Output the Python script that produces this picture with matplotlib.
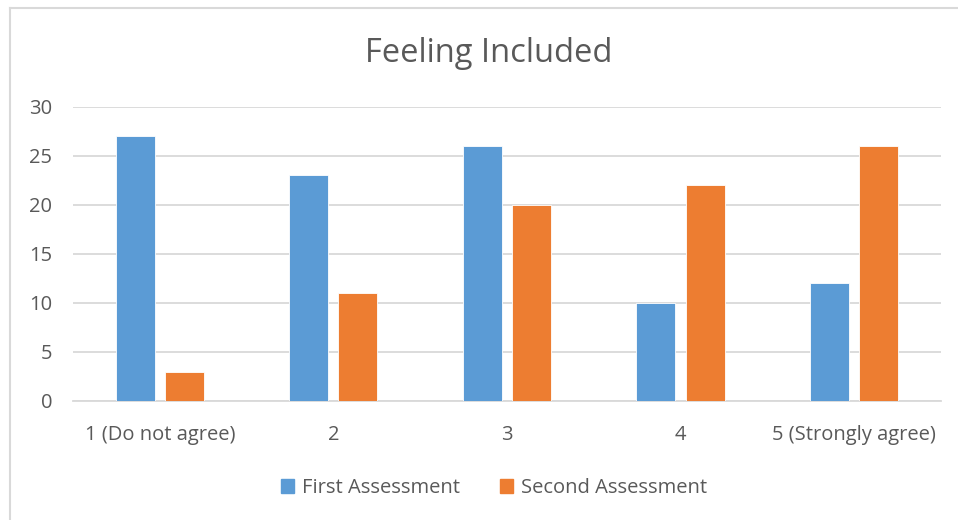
import numpy as np
import matplotlib.pyplot as plt
from matplotlib.patches import Patch
from matplotlib.lines import Line2D

plt.rcParams['font.family'] = ['Open Sans', 'DejaVu Sans']

categories = ["1 (Do not agree)", "2", "3", "4", "5 (Strongly agree)"]
first = [27, 23, 26, 10, 12]
second = [3, 11, 20, 22, 26]
yticks = [0, 5, 10, 15, 20, 25, 30]

blue = "#5B9BD5"
orange = "#ED7D31"
txt = "#595959"
grid = "#D9D9D9"

fig = plt.figure(figsize=(9.58, 5.2), dpi=100)
ax = fig.add_axes([73/958, 1-401/520, (940.7-73)/958, (401-106.7)/520])

x = np.arange(len(categories))
w = 0.225
off = 0.142
ax.bar(x - off, first, w, color=blue, edgecolor="white", linewidth=0.6, zorder=3)
ax.bar(x + off, second, w, color=orange, edgecolor="white", linewidth=0.6, zorder=3)

ax.set_xlim(-0.5, len(categories) - 0.5)
ax.set_ylim(0, 30)
ax.set_yticks(yticks)
ax.set_xticks(x)
ax.set_xticklabels(categories)
ax.yaxis.grid(True, color=grid, linewidth=1.3, zorder=0)
ax.tick_params(axis="both", length=0, labelsize=14.5, colors=txt)
ax.tick_params(axis="y", pad=15)
ax.tick_params(axis="x", pad=17)
for s in ["top", "right", "left"]:
    ax.spines[s].set_visible(False)
ax.spines["bottom"].set_color(grid)
ax.spines["bottom"].set_linewidth(1.3)

fig.text(489/958, 1-53/520, "Feeling Included", ha="center", va="center",
         fontsize=23.5, color=txt)

handles = [Patch(color=blue, label="First Assessment"),
           Patch(color=orange, label="Second Assessment")]
fig.legend(handles=handles, loc="center", bbox_to_anchor=(494/958, 1-488/520),
           ncol=2, frameon=False, fontsize=14.5, labelcolor=txt,
           handlelength=0.65, handleheight=0.65, handletextpad=0.4,
           columnspacing=2.0)

# chart border
fig.add_artist(Line2D([9.5/958, 9.5/958], [0, 1-7.5/520], color=grid, linewidth=1.5))
fig.add_artist(Line2D([9.5/958, 1], [1-7.5/520, 1-7.5/520], color=grid, linewidth=1.5))

fig.savefig("out.png", dpi=100)
